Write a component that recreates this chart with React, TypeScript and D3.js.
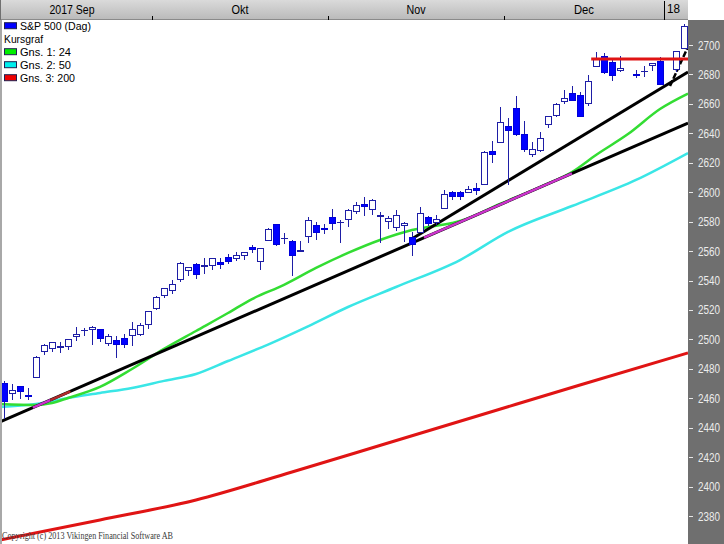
import React from 'react';
import * as d3 from 'd3';

// ---- data (one slot per trading-day position; null = empty slot) ----
const days = [
  '09-05','09-06','09-07','09-08','09-11','09-12','09-13','09-14','09-15','09-18',
  '09-19','09-20','09-21','09-22','09-25','09-26','09-27','09-28','09-29','10-02',
  '10-03','10-04','10-05','10-06','10-09','10-10','10-11','10-12','10-13','10-16',
  '10-17','10-18','10-19','10-20','10-23','10-24','10-25','10-26','10-27','10-30',
  '10-31','11-01','11-02','11-03','11-06','11-07','11-08','11-09','11-10','11-13',
  '11-14','11-15','11-16','11-17','11-20','11-21','11-22','11-23','11-24','11-27',
  '11-28','11-29','11-30','12-01','12-04','12-05','12-06','12-07','12-08','12-11',
  '12-12','12-13','12-14','12-15','12-18','12-19','12-20','12-21','12-22','12-26',
  '12-27','12-28','12-29','01-01','01-02','01-03'];

const opens: (number | null)[] = [
  2470.4,2463.8,2468.1,2462.3,2474.5,2491.9,2493.9,2494.6,2495.7,2502.5,
  2506.3,2506.8,2507.2,2497.3,2499.4,2501.0,2503.3,2503.4,2510.4,2521.2,
  2530.3,2533.5,2540.9,2547.4,2551.4,2550.0,2550.6,2552.9,2555.7,2555.6,
  2557.2,2562.9,2553.4,2567.6,2578.1,2568.7,2566.5,2560.1,2570.3,2577.8,
  2576.0,2583.2,2579.5,2581.9,2587.5,2592.1,2588.7,2584.0,2580.2,2576.5,
  2577.8,2569.5,2573.0,2582.9,2579.5,2589.2,2600.3,2600.3,2600.4,2602.7,
  2605.9,2627.8,2633.9,2645.1,2657.2,2639.8,2626.2,2628.4,2646.2,2652.2,
  2661.7,2667.6,2665.9,2660.6,2685.9,2692.7,2688.2,2683.0,null,2680.6,
  2682.1,2686.1,2689.2,null,2683.7,2697.9];
const highs: (number | null)[] = [
  2472.0,2469.6,2468.6,2467.1,2489.0,2496.8,2498.4,2498.4,2500.2,2508.3,
  2507.8,2508.9,2507.2,2503.5,2502.5,2503.5,2511.8,2510.8,2519.4,2529.2,
  2535.1,2540.5,2552.5,2549.4,2551.8,2555.2,2555.2,2555.3,2557.7,2559.5,
  2559.7,2564.1,2562.4,2575.4,2578.3,2572.2,2567.4,2567.1,2583.0,2580.0,
  2578.3,2588.4,2581.1,2588.4,2593.4,2597.0,2595.5,2586.5,2583.8,2587.7,
  2579.7,2572.8,2590.1,2584.0,2584.6,2601.2,2600.9,2600.9,2604.2,2606.4,
  2627.7,2634.9,2657.7,2650.6,2665.2,2648.7,2634.4,2641.0,2651.7,2660.3,
  2669.7,2671.9,2668.1,2679.6,2695.0,2694.4,2691.0,2692.6,null,2682.7,
  2685.6,2687.7,2692.1,null,2695.9,2714.4];
const lows: (number | null)[] = [
  2446.6,2459.2,2460.3,2459.4,2474.5,2490.4,2492.1,2491.4,2493.2,2499.9,
  2503.2,2496.7,2499.0,2496.5,2488.0,2495.1,2495.9,2502.9,2508.0,2520.4,
  2528.9,2531.8,2540.0,2543.8,2541.6,2544.9,2548.0,2548.3,2552.1,2553.9,
  2554.7,2559.7,2547.9,2567.6,2564.3,2565.6,2544.0,2559.8,2565.9,2568.3,
  2572.2,2574.9,2566.2,2576.8,2585.7,2584.4,2585.0,2566.3,2575.6,2574.5,
  2566.6,2557.5,2573.0,2577.6,2578.2,2589.2,2595.2,2595.2,2600.4,2598.9,
  2605.4,2620.3,2633.9,2605.5,2639.0,2627.7,2624.8,2628.1,2644.1,2651.5,
  2660.4,2662.9,2652.0,2659.1,2685.9,2680.7,2676.1,2682.4,null,2678.0,
  2678.9,2682.7,2673.6,null,2682.4,2697.8];
const closes: (number | null)[] = [
  2457.9,2465.5,2465.1,2461.4,2488.1,2496.5,2498.4,2495.6,2500.2,2503.9,
  2506.7,2508.2,2500.6,2502.2,2496.7,2496.8,2507.0,2510.1,2519.4,2529.1,
  2534.6,2537.7,2552.1,2549.3,2544.7,2550.6,2555.2,2550.9,2553.2,2557.6,
  2559.4,2561.3,2562.1,2575.2,2565.0,2569.1,2557.2,2560.4,2581.1,2572.8,
  2575.3,2579.4,2579.9,2587.8,2591.1,2590.6,2594.4,2584.6,2582.3,2584.8,
  2578.9,2564.6,2585.6,2578.9,2582.1,2599.0,2597.1,2597.1,2602.4,2601.4,
  2627.0,2626.1,2647.6,2642.2,2639.4,2629.6,2629.3,2637.0,2651.5,2660.0,
  2664.1,2662.9,2652.0,2675.8,2690.2,2681.5,2679.3,2684.6,null,2679.4,
  2682.6,2687.5,2673.6,null,2695.8,2713.1];

// moving averages (slot index -> value)
const ma24Idx = [-0.5,4,6,8,12,16,20,24,28,31,35,39,43,47,51,56,57,62,67,71,74,78,82,85.5];
const ma24Val = [2456.1,2455.4,2456.8,2460.2,2467.7,2479.9,2493.5,2505.7,2517.9,2527.4,2537.0,2548.5,2558.7,2567.5,2574.3,2579.1,2580.4,2592.0,2603.5,2613.7,2625.3,2639.5,2656.5,2667.0];
const ma50Idx = [-0.5,4,8,12,16,20,24,28,33,38,43,49,57,63,71,79,85.5];
const ma50Val = [2454.1,2456.1,2460.2,2463.6,2467.0,2471.8,2476.5,2485.3,2496.5,2508.9,2522.0,2535.6,2553.9,2573.0,2590.6,2608.3,2626.6];
const ma200Idx = [-0.5,12,24,36,48,60,72,85.5];
const ma200Val = [2363.7,2377.3,2390.9,2409.9,2429.6,2449.3,2469.0,2490.8];

// trend lines (index, value pairs)
const trendLow = { i: [-0.5, 85.5], v: [2443.9, 2647.0] };
const trendHigh = { i: [50.75, 85.5], v: [2567.5, 2681.7] };
const trendSteep = { i: [83.25, 85.6], v: [2672.1, 2700.0] };
const resistance = { i: [73.4, 85.5], v: 2690.5 };
const magentaSegs = [[3.6, 5.8], [52.5, 71]];
const brownSegs = [[5.8, 8.3]];

const yTicks = [2380,2400,2420,2440,2460,2480,2500,2520,2540,2560,2580,2600,2620,2640,2660,2680,2700];
const months = [
  { label: '2017 Sep', from: -1.5, to: 18.5, w: 45 },
  { label: 'Okt', from: 18.5, to: 40.5, w: 17 },
  { label: 'Nov', from: 40.5, to: 62.5, w: 19 },
  { label: 'Dec', from: 62.5, to: 82.5, w: 20 },
];
const yearTick = { label: '18', at: 82.5 };

const legend = [
  { label: 'S&P 500 (Dag)', color: '#0000ff', w: 71 },
  { label: 'Kursgraf', color: null, w: 39 },
  { label: 'Gns. 1: 24', color: '#00ee00', w: 51 },
  { label: 'Gns. 2: 50', color: '#00eeee', w: 51 },
  { label: 'Gns. 3: 200', color: '#ee0000', w: 55 },
];

export default function App() {
  const W = 724, H = 544, PR = 688, TOP = 20;
  const x = d3.scaleLinear().domain([-0.5, 85.5]).range([0, PR]);
  const y = d3.scaleLinear().domain([2380, 2700]).range([516, 45]);

  const maLine = (idx: number[]) =>
    d3.line<number>().x((_, k) => x(idx[k])).y((v) => y(v)).curve(d3.curveMonotoneX);

  const seg = (t: { i: number[]; v: number[] }) =>
    d3.line<number>().x((i) => x(i)).y((_, k) => y(t.v[k]))(t.i) || '';

  const onLow = (i: number) =>
    trendLow.v[0] + ((i - trendLow.i[0]) / (trendLow.i[1] - trendLow.i[0])) * (trendLow.v[1] - trendLow.v[0]);
  const lowSeg = (a: number, b: number) =>
    d3.line<number>().x((i) => x(i)).y((i) => y(onLow(i)))([a, b]) || '';

  const font = "'Liberation Sans', Arial, sans-serif";

  const candles = days.map((d, i) => {
    const o = opens[i], h = highs[i], l = lows[i], c = closes[i];
    if (o == null || h == null || l == null || c == null) return null;
    const cx = Math.round(x(i));
    const up = c >= o;
    const t = Math.round(y(Math.max(o, c)));
    const b = Math.round(y(Math.min(o, c)));
    const stroke = up ? '#1e1ea6' : '#0000d8';
    return (
      <g key={d}>
        <line x1={cx + 0.5} x2={cx + 0.5} y1={Math.round(y(h))} y2={Math.round(y(l)) + 1} stroke="#1e1ea6" strokeWidth={1} />
        {b - t >= 1 ? (
          <rect x={cx - 2.5} y={t + 0.5} width={6} height={b - t} fill={up ? '#ffffff' : '#0000ff'} stroke={stroke} strokeWidth={1} />
        ) : (
          <line x1={cx - 3} x2={cx + 4} y1={t + 0.5} y2={t + 0.5} stroke="#1e1ea6" strokeWidth={1} />
        )}
      </g>
    );
  });

  return (
    <svg width={W} height={H} style={{ position: 'absolute', left: 0, top: 0, background: '#fff' }}>
      <defs>
        <linearGradient id="hdr" x1="0" y1="0" x2="0" y2="1">
          <stop offset="0" stopColor="#dadada" />
          <stop offset="1" stopColor="#b9b9b9" />
        </linearGradient>
        <clipPath id="plot">
          <rect x={0} y={TOP} width={PR} height={H - TOP} />
        </clipPath>
      </defs>

      <rect x={0} y={0} width={W} height={H} fill="#ffffff" />

      <g clipPath="url(#plot)">
        {/* moving averages */}
        <path d={maLine(ma200Idx)(ma200Val) || ''} fill="none" stroke="#e01414" strokeWidth={3} />
        <path d={maLine(ma50Idx)(ma50Val) || ''} fill="none" stroke="#3ae6e6" strokeWidth={2.5} />
        <path d={maLine(ma24Idx)(ma24Val) || ''} fill="none" stroke="#33dd33" strokeWidth={2.5} />

        {/* trend lines */}
        <path d={seg(trendLow)} fill="none" stroke="#000" strokeWidth={3} />
        <path d={seg(trendHigh)} fill="none" stroke="#000" strokeWidth={3} />
        <path d={seg(trendSteep)} fill="none" stroke="#000" strokeWidth={2.5} strokeDasharray="6 2" />
        {magentaSegs.map(([a, b], k) => (
          <path key={'m' + k} d={lowSeg(a, b)} fill="none" stroke="#cc33cc" strokeWidth={2.5} />
        ))}
        {brownSegs.map(([a, b], k) => (
          <path key={'b' + k} d={lowSeg(a, b)} fill="none" stroke="#b02a2a" strokeWidth={2.5} />
        ))}

        {candles}

        <line x1={x(resistance.i[0])} x2={x(resistance.i[1])} y1={y(resistance.v)} y2={y(resistance.v)} stroke="#e01414" strokeWidth={3} />
      </g>

      {/* left border */}
      <rect x={0} y={TOP} width={2} height={H - TOP} fill="#a8a8a8" />

      {/* header */}
      <rect x={0} y={0} width={PR} height={TOP} fill="url(#hdr)" />
      <line x1={0} x2={PR} y1={19.5} y2={19.5} stroke="#8a8a8a" />
      <line x1={0.5} x2={0.5} y1={0} y2={20} stroke="#707070" />
      {months.map((m, k) => (
        <g key={m.label}>
          <text x={(x(m.from) + x(m.to)) / 2} y={14} textAnchor="middle" fontFamily={font} fontSize={12} fill="#000" textLength={m.w} lengthAdjust="spacingAndGlyphs">{m.label}</text>
          {k > 0 && <line x1={x(m.from) + 0.5} x2={x(m.from) + 0.5} y1={16} y2={20} stroke="#000" />}
        </g>
      ))}
      <line x1={x(yearTick.at) + 0.5} x2={x(yearTick.at) + 0.5} y1={1} y2={20} stroke="#000" />
      <text x={x(yearTick.at) + 3} y={13} fontFamily={font} fontSize={12} fill="#000" textLength={13} lengthAdjust="spacingAndGlyphs">{yearTick.label}</text>

      {/* right axis */}
      <rect x={PR} y={TOP} width={W - PR} height={H - TOP} fill="#6f6f6f" />
      {yTicks.map((t) => (
        <g key={t}>
          <line x1={PR + 1} x2={PR + 5} y1={Math.round(y(t)) + 0.5} y2={Math.round(y(t)) + 0.5} stroke="#e8e8e8" />
          <text x={698} y={y(t) + 4.5} fontFamily={font} fontSize={12} fill="#ececec" textLength={22} lengthAdjust="spacingAndGlyphs">{t}</text>
        </g>
      ))}

      {/* legend */}
      {legend.map((it, k) => {
        const cy = 25.7 + k * 13;
        return (
          <g key={it.label}>
            {it.color && <rect x={4.5} y={cy - 3} width={12} height={6} fill={it.color} stroke="#202050" strokeWidth={1} />}
            <text x={it.color ? 20 : 4} y={cy + 4} fontFamily={font} fontSize={11.5} fill="#000" textLength={it.w} lengthAdjust="spacingAndGlyphs">{it.label}</text>
          </g>
        );
      })}

      {/* copyright */}
      <text x={2} y={539} fontFamily="'Liberation Serif', 'Times New Roman', serif" fontSize={9.5} fill="#3a3a3a" textLength={171} lengthAdjust="spacingAndGlyphs">Copyright (c) 2013 Vikingen Financial Software AB</text>
    </svg>
  );
}
